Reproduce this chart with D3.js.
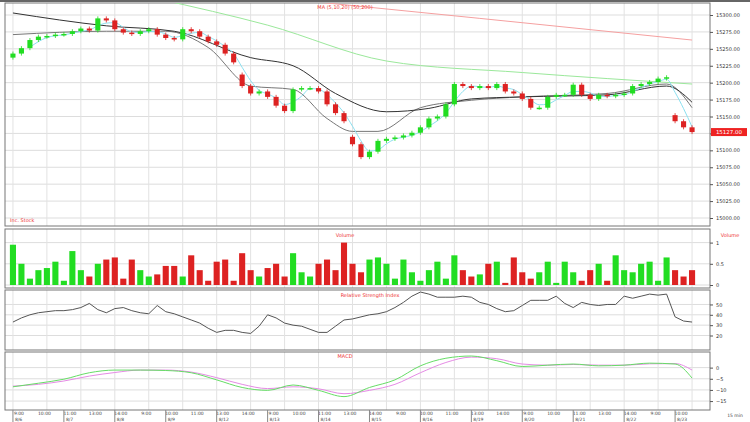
<!DOCTYPE html><html><head><meta charset="utf-8"><script src="https://d3js.org/d3.v7.min.js"></script>
<style>body{margin:0;background:#fff}text{font-family:"DejaVu Sans",sans-serif}</style></head><body><svg id="c" width="750" height="422"></svg>
<script>
const closes=[15243,15251,15263,15268,15269,15271,15272,15276,15280,15277,15295,15292,15279,15274,15272,15276,15279,15271,15266,15264,15279,15276,15268,15261,15256,15243,15230,15195,15184,15187,15179,15166,15158,15190,15192,15192,15187,15168,15155,15143,15109,15090,15098,15114,15117,15119,15122,15126,15134,15147,15150,15168,15198,15195,15192,15195,15192,15198,15187,15184,15176,15163,15163,15179,15182,15182,15197,15182,15176,15182,15180,15182,15184,15195,15198,15201,15206,15208,15143,15134,15127];
const gapOpens={27:15212,40:15120,78:15152};
const volumes=[0.95,0.5,0.15,0.35,0.4,0.55,0.1,0.8,0.35,0.2,0.5,0.6,0.65,0.15,0.6,0.35,0.2,0.25,0.45,0.45,0.2,0.7,0.35,0.1,0.55,0.6,0.1,0.75,0.35,0.2,0.4,0.5,0.2,0.75,0.3,0.2,0.5,0.6,0.35,1.0,0.5,0.3,0.6,0.65,0.5,0.15,0.6,0.3,0.1,0.35,0.55,0.15,0.7,0.35,0.2,0.25,0.5,0.55,0.05,0.65,0.3,0.15,0.3,0.55,0.05,0.55,0.3,0.1,0.35,0.5,0.1,0.7,0.35,0.3,0.5,0.55,0.1,0.65,0.35,0.2,0.35];
const rsi=[33,37,40,42,43,44,44,45,47,51,45,42,46,47,44,42,41,49,43,41,38,35,32,27,23,25,25,23,22,29,40,37,32,30,29,26,23,23,29,35,36,38,40,41,43,47,52,58,62,60,57,57,57,58,57,52,50,46,43,44,49,54,54,54,58,51,47,52,50,49,50,50,58,56,58,60,59,60,38,34,33];
const macdIdx=[0,3,6,9,12,15,18,21,24,27,30,33,36,39,42,45,48,51,54,57,60,63,66,69,72,75,78,80];
const macdLine=[-8.6,-7.0,-5.2,-2.3,-1.1,-1.1,-1.3,-2.3,-5.5,-8.9,-10.2,-7.8,-10.2,-13.0,-8.9,-5.5,0.8,4.2,5.2,3.1,0.5,1.1,1.6,0.8,1.1,2.0,1.6,-4.7];
const signalLine=[-8.3,-7.5,-6.0,-3.8,-2.2,-1.1,-1.1,-2.0,-4.5,-7.5,-9.4,-8.6,-9.5,-11.7,-10.2,-7.5,-2.3,2.3,4.7,4.0,1.6,1.1,1.4,1.1,1.1,1.7,1.8,-1.1];
const ma10Idx=[0,11,19,28,33,38,44,49,54,60,70,77,80];const ma10=[15303,15284,15276,15237,15225,15184,15157,15162,15176,15179,15182,15195,15171];
const ma20Idx=[0,11,18,23,28,33,37,40,43,48,54,60,70,77,80];const ma20=[15271,15276,15276,15252,15195,15190,15147,15128,15128,15163,15174,15179,15184,15198,15163];
const ma50Idx=[17,30,44,60,80];const ma50=[15324,15285,15232,15215,15198];
const ma200Idx=[36,55,80];const ma200=[15319,15295,15263];
const priceTicks=d3.range(15000,15301,25);
const volTicks=[0,0.5,1];const rsiTicks=[20,30,40,50];const macdTicks=[0,-5,-10,-15];
const timeLabels=["9:00","10:00","11:00","13:00","14:00"];
const dateLabels=["8/6","8/7","8/8","8/9","8/12","8/13","8/14","8/15","8/16","8/19","8/20","8/21","8/22","8/23"];

const svg=d3.select("#c");const L=5,R=710;
const x=d3.scaleBand().domain(d3.range(closes.length)).range([L+2,R-12]).padding(0.4);
const cx=i=>x(i)+x.bandwidth()/2;
const yP=d3.scaleLinear().domain([15000,15300]).range([218,15]);
const yV=d3.scaleLinear().domain([0,1.25]).range([285,232]);
const yR=d3.scaleLinear().domain([6,63]).range([350,291]);
const yM=d3.scaleLinear().domain([-19,7]).range([410,352]);
const panels=[[3,226],[229,288],[290,350],[352,410]];
svg.append("rect").attr("x",0).attr("y",0).attr("width",750).attr("height",422).attr("fill","#fff");
const grid=(sc,ticks,p)=>{ticks.forEach(t=>svg.append("line").attr("x1",L).attr("x2",R).attr("y1",sc(t)).attr("y2",sc(t)).attr("stroke","#ddd"));
 d3.range(0,closes.length,4).forEach(i=>svg.append("line").attr("x1",cx(i)).attr("x2",cx(i)).attr("y1",p[0]).attr("y2",p[1]).attr("stroke","#e2e2e2"));};
grid(yP,priceTicks,panels[0]);grid(yV,volTicks,panels[1]);grid(yR,rsiTicks,panels[2]);grid(yM,macdTicks,panels[3]);
panels.forEach(p=>svg.append("rect").attr("x",L).attr("y",p[0]).attr("width",R-L).attr("height",p[1]-p[0]).attr("fill","none").attr("stroke","#777"));
svg.append("line").attr("x1",0).attr("x2",750).attr("y1",1).attr("y2",1).attr("stroke","#666").attr("stroke-width",2);
const last=closes[closes.length-1];
const ax=(sc,ticks,fmt,skip)=>{const g=svg.append("g").attr("transform",`translate(${R},0)`).call(d3.axisRight(sc).tickValues(ticks).tickSize(3).tickFormat(fmt));
 g.select(".domain").remove();g.selectAll("text").attr("font-size",5).attr("fill","#333").filter(d=>skip&&skip(d)).remove();g.selectAll("line").attr("stroke","#555");};
ax(yP,priceTicks,d3.format(".2f"),d=>Math.abs(yP(d)-yP(last))<6);ax(yV,volTicks,d3.format("~g"));ax(yR,rsiTicks,d3.format("d"));ax(yM,macdTicks,d3.format("d"));
svg.append("clipPath").attr("id","cp").append("rect").attr("x",L).attr("y",3).attr("width",R-L).attr("height",223);
const sma=n=>closes.map((c,i)=>i<n-1?null:d3.mean(closes.slice(i-n+1,i+1)));
const pts=(idx,v,sc)=>d3.line().x((d,k)=>cx(idx[k])).y(d=>sc(d)).curve(d3.curveMonotoneX)(v);
const pl=(d,c)=>svg.append("path").attr("d",d).attr("fill","none").attr("stroke",c).attr("clip-path","url(#cp)");
pl(pts(ma200Idx,ma200,yP),"#f5a0a0");pl(pts(ma50Idx,ma50,yP),"#9be89b");
pl(pts(ma20Idx,ma20,yP),"#777");pl(pts(ma10Idx,ma10,yP),"#333");
pl(d3.line().defined(d=>d!=null).x((d,i)=>cx(i)).y(d=>yP(d)).curve(d3.curveMonotoneX)(sma(3)),"#8be0f0");
const G="#22dd22",Rd="#dd2222";
closes.forEach((c,i)=>{const o=gapOpens[i]!=null?gapOpens[i]:(i?closes[i-1]:c-6);const up=c>=o;const col=up?G:Rd;
 svg.append("line").attr("x1",cx(i)).attr("x2",cx(i)).attr("y1",yP(Math.max(o,c)+3)).attr("y2",yP(Math.min(o,c)-3)).attr("stroke",col).attr("stroke-width",0.8);
 svg.append("rect").attr("x",x(i)).attr("width",x.bandwidth()).attr("y",yP(Math.max(o,c))).attr("height",Math.max(1.5,yP(Math.min(o,c))-yP(Math.max(o,c)))).attr("fill",col);
 svg.append("rect").attr("x",x(i)-0.5).attr("width",x.bandwidth()+1).attr("y",yV(volumes[i])).attr("height",yV(0)-yV(volumes[i])).attr("fill",col);});
svg.append("path").attr("d",d3.line().x((d,i)=>cx(i)).y(d=>yR(d))(rsi)).attr("fill","none").attr("stroke","#555");
svg.append("path").attr("d",pts(macdIdx,signalLine,yM)).attr("fill","none").attr("stroke","#e58be5");
svg.append("path").attr("d",pts(macdIdx,macdLine,yM)).attr("fill","none").attr("stroke","#66dd66");
const t=(s,X,Y,a="middle",c="#e33",f=5)=>svg.append("text").attr("x",X).attr("y",Y).attr("text-anchor",a).attr("font-size",f).attr("fill",c).text(s);
t("MA (5,10,20) (50,200)",345,9);t("Volume",345,237);t("Volume",730,237);t("Relative Strength Index",370,297);t("MACD",345,358);t("Inc. Stock",10,222,"start");
svg.append("rect").attr("x",R+1).attr("y",yP(last)-4).attr("width",36).attr("height",8).attr("fill","#e22");
t(d3.format(".2f")(last),R+19,yP(last)+2,"middle","#fff",5.5);
d3.range(0,closes.length,3).forEach((i,k)=>{if(cx(i)<R-8)t(timeLabels[k%timeLabels.length],cx(i)+6,415,"middle","#444",4.5);});
d3.range(0,closes.length,6).forEach((i,k)=>{svg.append("line").attr("x1",cx(i)).attr("x2",cx(i)).attr("y1",410).attr("y2",422).attr("stroke","#888");t(dateLabels[k%dateLabels.length],cx(i)+2,421,"start","#444",4.5);});
t("15 min",735,417,"middle","#444",4.5);
</script></body></html>
